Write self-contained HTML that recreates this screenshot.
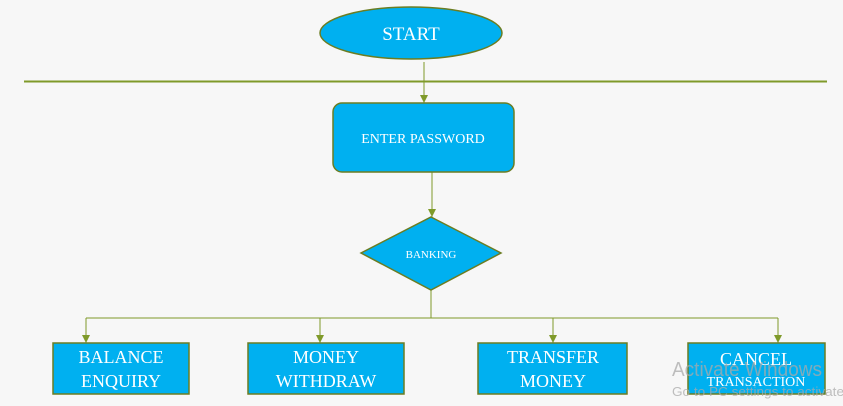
<!DOCTYPE html>
<html><head><meta charset="utf-8"><style>
html,body{margin:0;padding:0;background:#f7f7f7;width:843px;height:406px;overflow:hidden}
</style></head><body>
<svg width="843" height="406" xmlns="http://www.w3.org/2000/svg" font-family="'Liberation Serif', serif">
<defs>
<marker id="d" viewBox="0 0 8 8" markerWidth="8" markerHeight="8" refX="4" refY="8" orient="0" markerUnits="userSpaceOnUse"><path d="M0,0 L8,0 L4,8 z" fill="#7f9a2a"/></marker></defs>
<rect width="843" height="406" fill="#f7f7f7"/>
<g stroke="#7f9a2a" fill="none" stroke-width="1">
<line x1="24" y1="81.5" x2="827" y2="81.5" stroke-width="2"/>
<line x1="424" y1="62" x2="424" y2="103" marker-end="url(#d)"/>
<line x1="432" y1="172" x2="432" y2="217" marker-end="url(#d)"/>
<line x1="431" y1="290" x2="431" y2="318"/>
<line x1="86" y1="318" x2="778" y2="318"/>
<line x1="86" y1="318" x2="86" y2="343" marker-end="url(#d)"/>
<line x1="320" y1="318" x2="320" y2="343" marker-end="url(#d)"/>
<line x1="553" y1="318" x2="553" y2="343" marker-end="url(#d)"/>
<line x1="778" y1="318" x2="778" y2="343" marker-end="url(#d)"/>
</g>
<g fill="#00b0f0" stroke="#6b7d22" stroke-width="1.5">
<ellipse cx="411" cy="33" rx="91" ry="26"/>
<rect x="333" y="103" width="181" height="69" rx="9"/>
<polygon points="431,217 501,253 431,290 361,253"/>
<rect x="53" y="343" width="136" height="51"/>
<rect x="248" y="343" width="156" height="51"/>
<rect x="478" y="343" width="149" height="51"/>
<rect x="688" y="343" width="137" height="51"/>
</g>
<g fill="#fff" text-anchor="middle">
<text x="411" y="40" font-size="19">START</text>
<text x="423" y="143" font-size="14">ENTER PASSWORD</text>
<text x="431" y="258" font-size="11">BANKING</text>
<text x="121" y="363" font-size="18">BALANCE</text>
<text x="121" y="387" font-size="18">ENQUIRY</text>
<text x="326" y="363" font-size="18">MONEY</text>
<text x="326" y="387" font-size="18">WITHDRAW</text>
<text x="553" y="363" font-size="18">TRANSFER</text>
<text x="553" y="387" font-size="18">MONEY</text>
<text x="756" y="365" font-size="18">CANCEL</text>
<text x="756" y="386" font-size="14">TRANSACTION</text>
</g>
<text x="672" y="376" font-family="'Liberation Sans', sans-serif" font-size="20" textLength="150" lengthAdjust="spacingAndGlyphs" fill="#aaa" fill-opacity="0.75">Activate Windows</text>
<text x="672" y="396" font-family="'Liberation Sans', sans-serif" font-size="13" textLength="172" lengthAdjust="spacingAndGlyphs" fill="#aaa" fill-opacity="0.75">Go to PC settings to activate</text>
</svg>
</body></html>
